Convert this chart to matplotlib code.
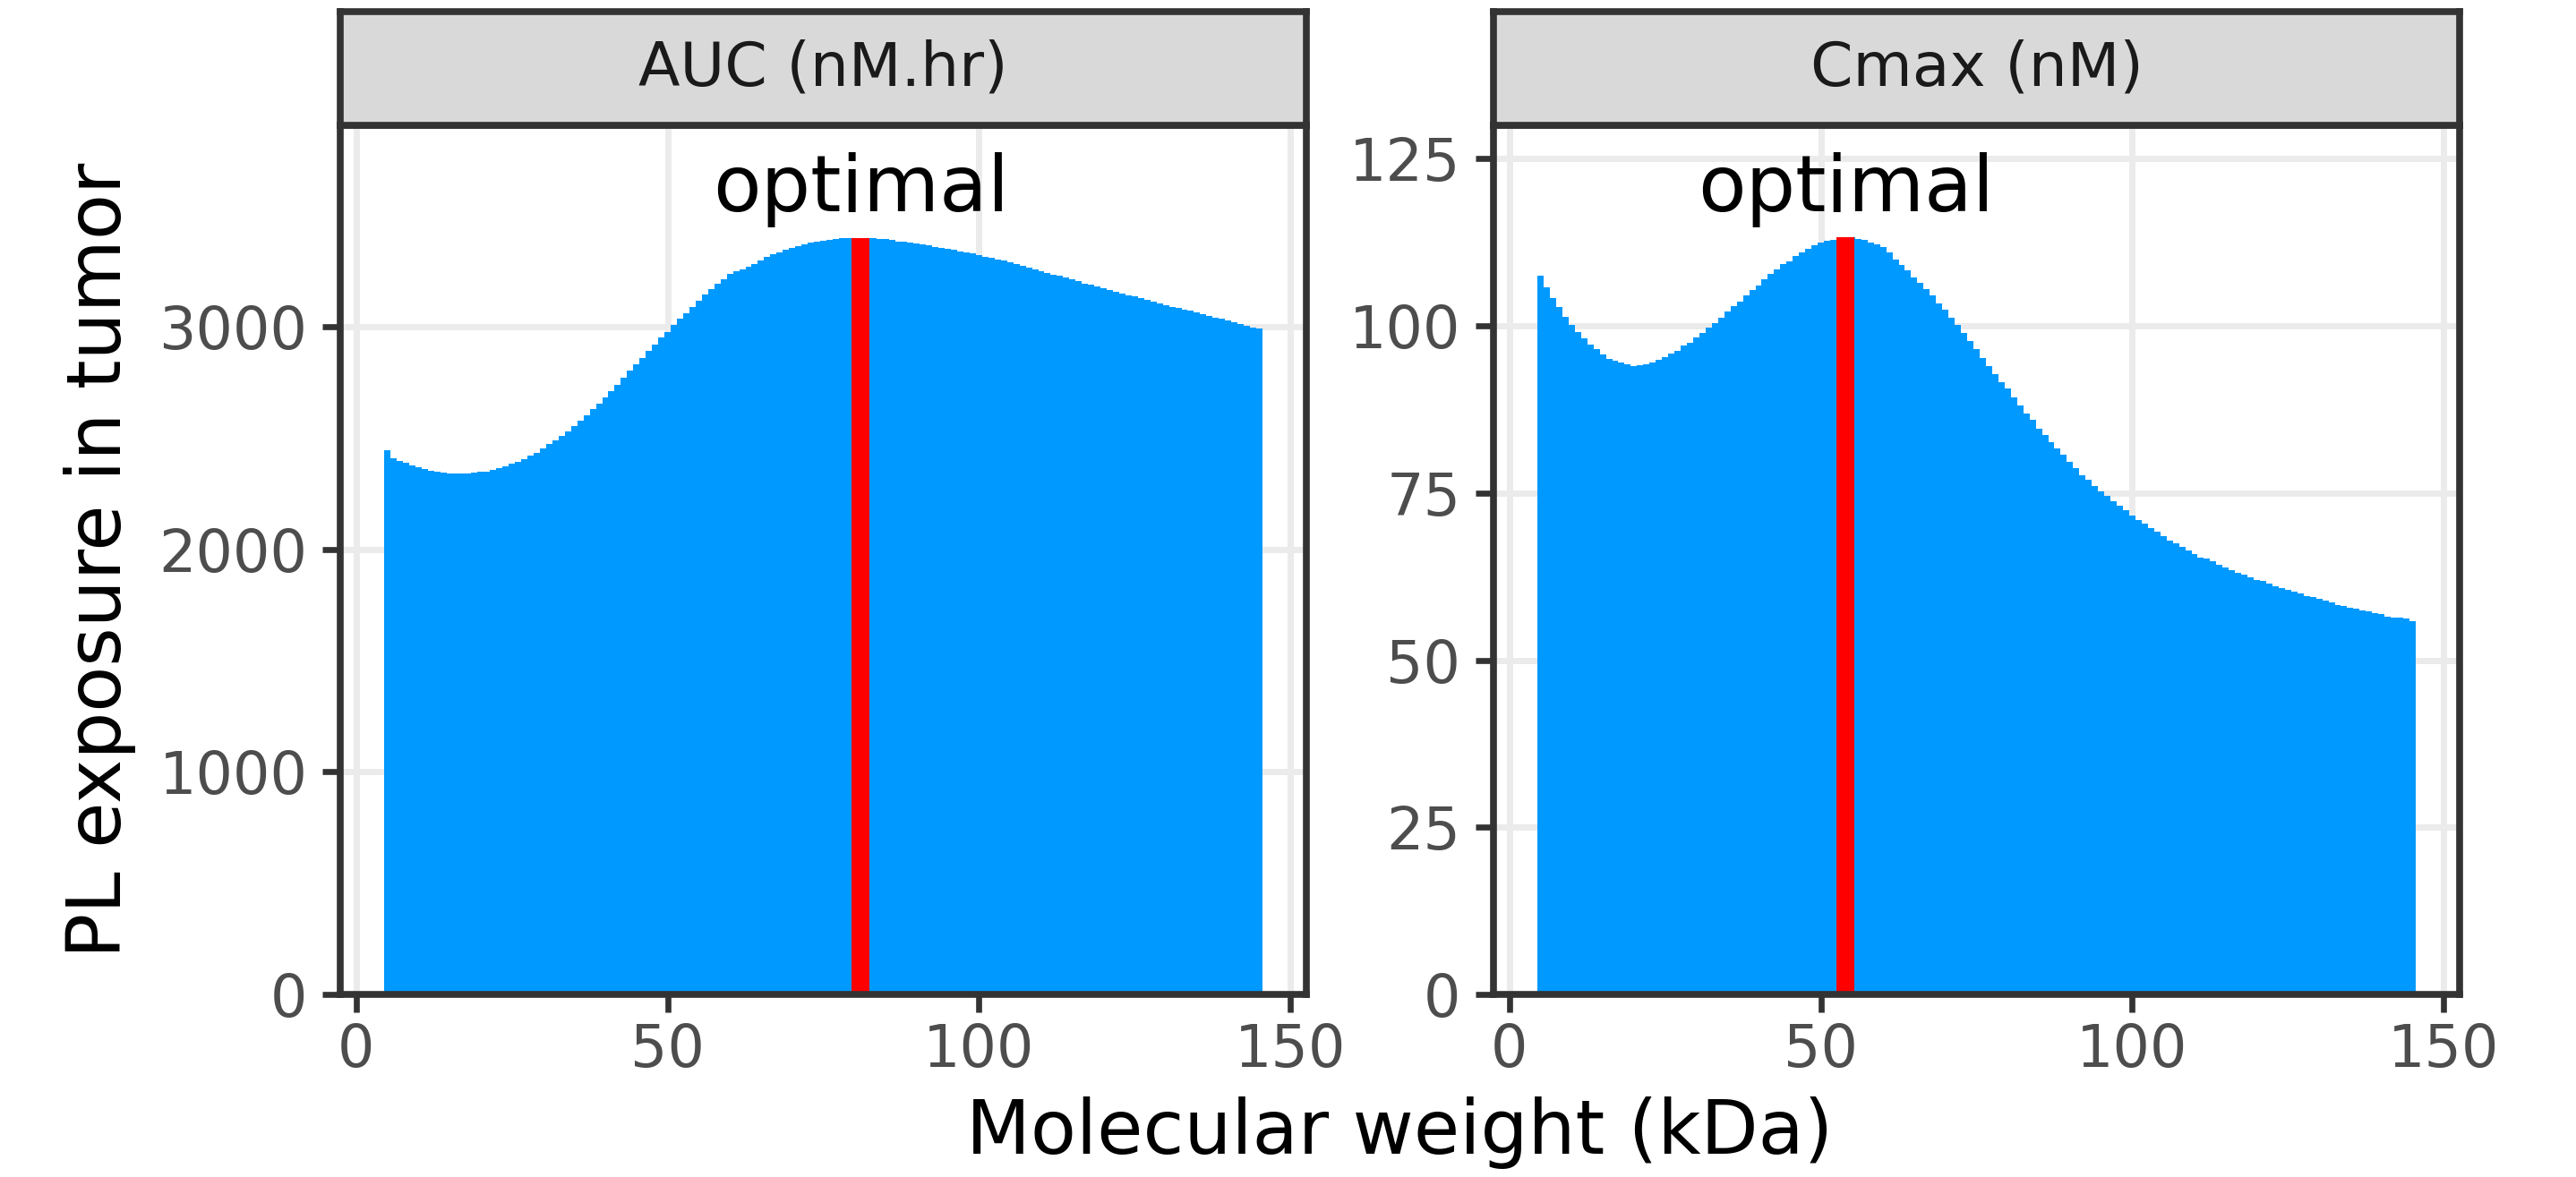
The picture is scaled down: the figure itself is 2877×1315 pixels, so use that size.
import matplotlib
matplotlib.use("Agg")
import matplotlib.pyplot as plt

# bar positions: molecular weight (kDa), one bar per kDa
mw = list(range(5, 146))

# AUC (nM.hr), mw 5..145
auc = [2445, 2411, 2398, 2391, 2377, 2370, 2361, 2353, 2348, 2345,
       2343, 2342, 2342, 2342, 2345, 2349, 2350, 2357, 2364, 2373,
       2385, 2394, 2405, 2420, 2435, 2455, 2472, 2491, 2512, 2532,
       2555, 2578, 2602, 2629, 2656, 2683, 2712, 2741, 2771, 2802,
       2830, 2860, 2891, 2922, 2951, 2978, 3008, 3039, 3061, 3088,
       3119, 3145, 3170, 3192, 3215, 3237, 3250, 3260, 3269, 3282,
       3298, 3313, 3326, 3336, 3347, 3355, 3363, 3371, 3378, 3384,
       3387, 3391, 3395, 3398, 3399, 3400, 3400, 3400, 3398, 3396,
       3394, 3391, 3385, 3382, 3378, 3375, 3371, 3367, 3360, 3355,
       3351, 3347, 3340, 3334, 3330, 3323, 3316, 3310, 3304, 3298,
       3291, 3284, 3276, 3268, 3259, 3251, 3244, 3236, 3229, 3221,
       3213, 3205, 3196, 3188, 3180, 3172, 3165, 3158, 3151, 3143,
       3136, 3128, 3121, 3113, 3106, 3098, 3091, 3085, 3078, 3072,
       3065, 3058, 3050, 3043, 3036, 3029, 3022, 3014, 3006, 2998,
       2991]

# Cmax (nM), mw 5..145
cmax = [107.5, 105.8, 104.1, 102.8, 101.4, 100.2, 99.1, 98.1, 97.2, 96.5,
        95.7, 95.1, 94.8, 94.5, 94.2, 94.0, 94.1, 94.2, 94.5, 94.9,
        95.3, 95.9, 96.2, 97.1, 97.5, 98.3, 98.9, 99.7, 100.4, 101.2,
        102.1, 102.9, 103.6, 104.6, 105.3, 106.1, 107.0, 107.8, 108.5, 109.3,
        109.7, 110.4, 111.0, 111.5, 112.0, 112.4, 112.7, 112.9, 113.2, 113.3,
        113.2, 113.0, 112.9, 112.4, 112.2, 111.8, 111.0, 109.9, 109.1, 108.3,
        107.3, 106.5, 105.5, 104.6, 103.4, 102.4, 101.2, 100.2, 98.9, 97.7,
        96.5, 95.2, 94.0, 92.8, 91.6, 90.6, 89.3, 88.1, 86.9, 85.9,
        84.6, 83.7, 82.6, 81.7, 80.7, 79.7, 78.7, 77.7, 77.0, 76.1,
        75.3, 74.6, 73.8, 73.1, 72.4, 71.6, 70.9, 70.4, 69.7, 69.2,
        68.6, 67.9, 67.5, 67.0, 66.4, 65.9, 65.4, 65.2, 64.8, 64.2,
        63.9, 63.4, 63.1, 62.8, 62.4, 62.0, 61.8, 61.4, 61.1, 60.8,
        60.5, 60.3, 60.0, 59.6, 59.4, 59.2, 58.9, 58.6, 58.3, 58.1,
        57.9, 57.7, 57.5, 57.3, 57.0, 56.9, 56.5, 56.4, 56.3, 56.2,
        55.8]

panel_titles = ["AUC (nM.hr)", "Cmax (nM)"]
panel_values = [auc, cmax]
optimal_mw = [81, 54]
label_y = [3520, 117.2]
y_ticks = [[0, 1000, 2000, 3000], [0, 25, 50, 75, 100, 125]]
y_top = [3906, 130.0]
x_ticks = [0, 50, 100, 150]

BLUE = "#0099FF"
DARK = "#333333"
GRID = "#EBEBEB"

W, H = 2877, 1315
fig = plt.figure(figsize=(W / 100, H / 100), dpi=100)

# panel geometry in pixels
lefts = [380, 1668]
pw = 1079
p_top, p_bot = 140, 1111
s_top = 13

for i in range(2):
    ax = fig.add_axes([lefts[i] / W, 1 - p_bot / H, pw / W, (p_bot - p_top) / H])
    vals = panel_values[i]
    ax.bar(mw, vals, width=1.0, color=BLUE, linewidth=0, antialiased=False, zorder=2)
    opt = optimal_mw[i]
    ax.bar([opt], [vals[mw.index(opt)]], width=2.85, color="#FF0000", linewidth=0, zorder=3)
    ax.text(opt, label_y[i], "optimal", ha="center", va="baseline", fontsize=63, color="black")

    ax.set_xlim(-2.55, 152.55)
    ax.set_ylim(0, y_top[i])
    ax.set_xticks(x_ticks)
    ax.set_yticks(y_ticks[i])
    ax.grid(True, color=GRID, linewidth=5)
    ax.set_axisbelow(True)
    ax.tick_params(length=14.4, width=4.8, color=DARK, labelsize=47, labelcolor="#4D4D4D")
    ax.tick_params(axis="x", pad=8)
    ax.tick_params(axis="y", pad=12)
    for sp in ax.spines.values():
        sp.set_color(DARK)
        sp.set_linewidth(5.5)
        sp.set_zorder(5)

    # facet strip
    st = fig.add_axes([lefts[i] / W, 1 - p_top / H, pw / W, (p_top - s_top) / H])
    st.set_facecolor("#D9D9D9")
    st.set_xticks([])
    st.set_yticks([])
    for sp in st.spines.values():
        sp.set_color(DARK)
        sp.set_linewidth(5.5)
    st.text(0.5, 0.5, panel_titles[i], ha="center", va="center", fontsize=49,
            color="#1A1A1A", transform=st.transAxes)

fig.text(1563 / W, 1 - 1289 / H, "Molecular weight (kDa)", ha="center", va="baseline",
         fontsize=60, color="black")
fig.text(112 / W, 1 - 626 / H, "PL exposure in tumor", ha="center", va="center",
         rotation=90, fontsize=60, color="black")

fig.savefig("out.png", dpi=100)
